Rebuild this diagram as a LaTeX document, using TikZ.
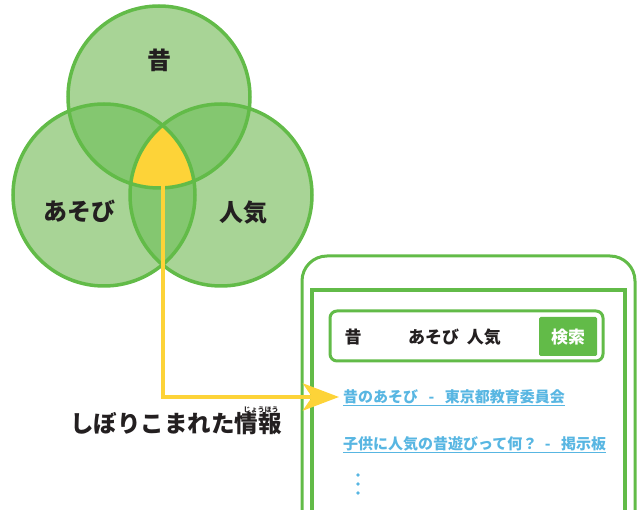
\documentclass[tikz,border=0pt]{standalone}
\usepackage{fontspec}
\setmainfont{Noto Sans CJK JP}
\usetikzlibrary{arrows.meta}
\definecolor{vgreen}{RGB}{98,187,72}
\definecolor{vlight}{RGB}{168,212,150}
\definecolor{vmid}{RGB}{132,199,112}
\definecolor{vyellow}{RGB}{253,211,56}
\definecolor{vlink}{RGB}{88,182,226}
\definecolor{vtext}{RGB}{35,31,32}
\begin{document}
\begin{tikzpicture}[x=1pt,y=-1pt,
  ring/.style={draw=vgreen, line width=3.5pt},
  frame/.style={draw=vgreen, line width=3pt},
  biglabel/.style={font=\fontsize{24}{28}\selectfont\bfseries, text=vtext, inner sep=0pt},
  boxtext/.style={font=\fontsize{17}{20}\selectfont\bfseries, text=vtext, inner sep=0pt},
  linktext/.style={font=\fontsize{15}{18}\selectfont\bfseries, text=vlink, inner sep=0pt, anchor=west},
  underl/.style={draw=vlink, line width=1.2pt},
  pointer/.style={draw=vyellow, line width=4.5pt, -{Stealth[length=36pt,width=27pt,inset=9pt]}},
  dotmark/.style={fill=vlink}
]
\useasboundingbox (0,0) rectangle (638,510);
\def\CA{(159,97) circle (91pt)}
\def\CB{(104,195) circle (91pt)}
\def\CC{(221,195) circle (91pt)}
% Venn fills
\fill[vlight] \CA; \fill[vlight] \CB; \fill[vlight] \CC;
\begin{scope}\clip \CA; \fill[vmid] \CB; \fill[vmid] \CC; \end{scope}
\begin{scope}\clip \CB; \fill[vmid] \CC; \end{scope}
\begin{scope}\clip \CA; \clip \CB; \fill[vyellow] \CC; \end{scope}
\draw[ring] \CA; \draw[ring] \CB; \draw[ring] \CC;
% circle labels
\node[biglabel] (mukashi) at (159,60) {昔};
\node[biglabel] (asobi) at (79,211) {あそび};
\node[biglabel] (ninki) at (243,213) {人気};
% phone
\begin{scope}
\clip (0,0) rectangle (638,510);
\draw[frame, rounded corners=25pt] (302,256) rectangle (635,560);
\draw[frame, line width=3.5pt] (312,290) rectangle (625,560);
\end{scope}
% search box
\draw[frame, rounded corners=7pt] (330,311) rectangle (603,361);
\fill[vgreen, rounded corners=1.5pt] (539,317) rectangle (597,356);
\node[boxtext] (q1) at (353,337) {昔};
\node[boxtext, anchor=west] (q2) at (408,337) {あそび\hspace{0.45em}人気};
\node[boxtext, text=white] (btn) at (568,337) {検索};
% links
\node[linktext] (l1) at (343,397) {昔のあそび\hspace{0.7em}-\hspace{0.7em}東京都教育委員会};
\draw[underl] ([yshift=-3pt]l1.base west) -- ([yshift=-3pt]l1.base east);
\node[linktext] (l2) at (343,444) {子供に人気の昔遊びって何？\hspace{0.5em}-\hspace{0.7em}掲示板};
\draw[underl] ([yshift=-3pt]l2.base west) -- ([yshift=-3pt]l2.base east);
\fill[dotmark] (358,475) circle (1.9pt);
\fill[dotmark] (358,484) circle (1.9pt);
\fill[dotmark] (358,493) circle (1.9pt);
% label
\node[biglabel, font=\fontsize{23.5}{28}\selectfont\bfseries, anchor=west] (info) at (70,424) {しぼりこまれた情報};
\node[font=\fontsize{7}{8}\selectfont\bfseries, text=vtext, inner sep=0pt] (ruby) at (261,410) {じょうほう};
% pointer
\coordinate (src) at (163,172);
\draw[pointer, shorten >=4pt] (src) |- (l1.west);
\end{tikzpicture}
\end{document}
